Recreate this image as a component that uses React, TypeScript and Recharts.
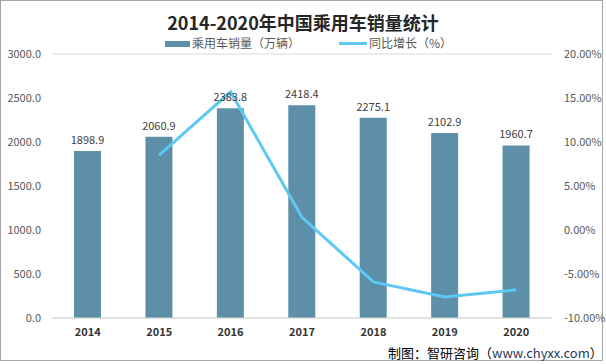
import React from 'react';
import { ComposedChart, Bar, Line, XAxis, YAxis, CartesianGrid, LabelList, Legend } from 'recharts';

const years = ['2014', '2015', '2016', '2017', '2018', '2019', '2020'];
const sales = [1898.9, 2060.9, 2383.8, 2418.4, 2275.1, 2102.9, 1960.7];
const growth: (number | null)[] = [null, 8.5, 15.7, 1.45, -5.9, -7.6, -6.8];
const leftTicks = [0, 500, 1000, 1500, 2000, 2500, 3000];
const rightTicks = [-10, -5, 0, 5, 10, 15, 20];

const data = years.map((y, i) => ({ year: y, sales: sales[i], growth: growth[i] }));

const BAR_COLOR = '#5D90A8';
const LINE_COLOR = '#5CC8F3';
const FONT = '"Noto Sans CJK SC", "Noto Sans", sans-serif';

const LegendContent = () => (
  <div style={{ position: 'relative', height: 16, width: 606, fontFamily: FONT, fontSize: 12, color: '#595959' }}>
    <div style={{ position: 'absolute', left: 165, top: 5, width: 25, height: 6, background: BAR_COLOR }} />
    <div style={{ position: 'absolute', left: 192, top: -1, lineHeight: '16px', whiteSpace: 'nowrap' }}>乘用车销量（万辆）</div>
    <div style={{ position: 'absolute', left: 339, top: 6, width: 28, height: 3, background: LINE_COLOR }} />
    <div style={{ position: 'absolute', left: 369, top: -1, lineHeight: '16px', whiteSpace: 'nowrap' }}>同比增长（%）</div>
  </div>
);

export default function App() {
  return (
    <div style={{ position: 'fixed', left: 0, top: 0, width: 606, height: 364, background: '#fff', fontFamily: FONT }}>
      <div style={{ position: 'absolute', left: 0, top: 0, width: 603, height: 361, border: '1.5px solid #A6A6A6', boxSizing: 'border-box' }} />
      <div style={{ position: 'absolute', left: 0, top: 10, width: 606, textAlign: 'center', fontSize: 18, fontWeight: 'bold', color: '#262626', lineHeight: '24px' }}>
        2014-2020年中国乘用车销量统计
      </div>
      <div style={{ position: 'absolute', left: 0, top: 0 }}>
        <ComposedChart width={606} height={364} data={data} margin={{ top: 38, right: 0, bottom: 21, left: 0 }}>
          <Legend verticalAlign="top" align="left" content={<LegendContent />} wrapperStyle={{ top: 36, left: 0 }} />
          <CartesianGrid vertical={false} stroke="#D9D9D9" />
          <XAxis
            dataKey="year"
            axisLine={{ stroke: '#D9D9D9' }}
            tickLine={false}
            height={25}
            tick={{ fontSize: 11, fontWeight: 'bold', fill: '#333333', fontFamily: FONT }}
            tickMargin={4}
          />
          <YAxis
            yAxisId="left"
            orientation="left"
            width={52}
            domain={[0, 3000]}
            ticks={leftTicks}
            interval={0}
            axisLine={false}
            tickLine={false}
            tickSize={8}
            tickMargin={3}
            tickFormatter={(v: number) => v.toFixed(1)}
            tick={{ fontSize: 11, fill: '#595959', fontFamily: FONT }}
          />
          <YAxis
            yAxisId="right"
            orientation="right"
            width={54}
            domain={[-10, 20]}
            ticks={rightTicks}
            interval={0}
            axisLine={false}
            tickLine={false}
            tickSize={8}
            tickMargin={4}
            tickFormatter={(v: number) => v.toFixed(2) + '%'}
            tick={{ fontSize: 11, fill: '#595959', fontFamily: FONT, textAnchor: 'start' }}
          />
          <Bar yAxisId="left" dataKey="sales" fill={BAR_COLOR} barSize={27} isAnimationActive={false}>
            <LabelList
              dataKey="sales"
              position="top"
              offset={7}
              formatter={(v: number) => v.toFixed(1)}
              style={{ fontSize: 11, fill: '#404040', fontFamily: FONT }}
            />
          </Bar>
          <Line
            yAxisId="right"
            dataKey="growth"
            stroke={LINE_COLOR}
            strokeWidth={3}
            dot={false}
            activeDot={false}
            connectNulls={false}
            isAnimationActive={false}
          />
        </ComposedChart>
      </div>
      <div style={{ position: 'absolute', left: 388, top: 344, fontSize: 13, lineHeight: '18px', color: '#000', whiteSpace: 'nowrap' }}>
        制图：智研咨询（<span style={{ color: '#1F3864' }}>www.chyxx.com</span>）
      </div>
    </div>
  );
}
